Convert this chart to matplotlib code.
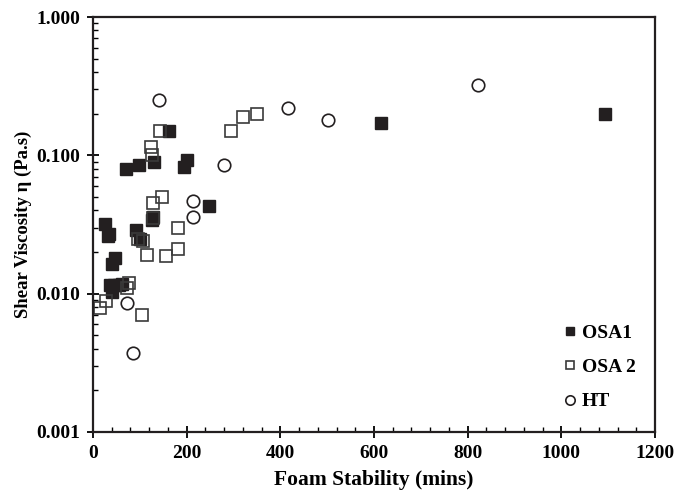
import matplotlib
matplotlib.use("Agg")
import matplotlib.pyplot as plt
from matplotlib.ticker import FixedLocator, LogLocator, FixedFormatter, NullFormatter, MultipleLocator

osa1_x = [162, 70, 98, 130, 200, 194, 248, 128, 127, 26, 31, 35, 92, 100, 47, 40, 36, 45, 55, 62, 40, 615, 1093]
osa1_y = [0.149, 0.080, 0.085, 0.090, 0.092, 0.082, 0.043, 0.036, 0.034, 0.032, 0.026, 0.027, 0.029, 0.025,
          0.018, 0.0165, 0.0115, 0.0115, 0.0115, 0.0117, 0.0103, 0.170, 0.200]

osa2_x = [143, 124, 127, 295, 320, 350, 147, 128, 128, 181, 96, 107, 115, 156, 181, 77, 73, 27, 14, 105]
osa2_y = [0.150, 0.115, 0.100, 0.150, 0.190, 0.198, 0.050, 0.045, 0.035, 0.030, 0.025, 0.024, 0.019, 0.0187,
          0.021, 0.012, 0.011, 0.0088, 0.0079, 0.0070]

ht_x = [141, 280, 214, 213, 72, 86, 416, 501, 822]
ht_y = [0.25, 0.085, 0.047, 0.036, 0.0085, 0.0037, 0.22, 0.18, 0.32]

x_ticks = [0, 200, 400, 600, 800, 1000, 1200]
y_ticks = [0.001, 0.01, 0.1, 1.0]
y_tick_labels = ["0.001", "0.010", "0.100", "1.000"]

plt.rcParams['font.family'] = ['Liberation Serif', 'DejaVu Serif']
plt.rcParams['font.weight'] = 'bold'

fig = plt.figure(figsize=(6.92, 4.94), dpi=100)
ax = fig.add_axes([93/692, 1-432/494, (655-93)/692, (432-17)/494])

ms = 8.5
ax.plot(osa1_x, osa1_y, ls='none', marker='s', ms=ms, mfc='#231f20', mec='#231f20', mew=1.0, label='OSA1')
ax.plot(osa2_x, osa2_y, ls='none', marker='s', ms=ms, mfc='none', mec='#3a3a3a', mew=1.2, label='OSA 2')
ax.plot(ht_x, ht_y, ls='none', marker='o', ms=ms+0.5, mfc='none', mec='#231f20', mew=1.2, label='HT')

ax.set_yscale('log')
ax.set_xlim(0, 1200)
ax.set_ylim(0.001, 1.0)
ax.xaxis.set_major_locator(FixedLocator(x_ticks))
ax.xaxis.set_minor_locator(MultipleLocator(40))
ax.yaxis.set_major_locator(FixedLocator(y_ticks))
ax.yaxis.set_major_formatter(FixedFormatter(y_tick_labels))
ax.yaxis.set_minor_locator(LogLocator(base=10, subs=range(2, 10)))
ax.yaxis.set_minor_formatter(NullFormatter())

ax.tick_params(which='major', direction='inout', length=8, width=1.3, labelsize=14, pad=5)
ax.tick_params(which='minor', direction='in', length=3.5, width=1.0)
for lbl in ax.get_xticklabels() + ax.get_yticklabels():
    lbl.set_fontweight('bold')
for s in ax.spines.values():
    s.set_linewidth(1.6)
    s.set_color('#231f20')

ax.set_xlabel('Foam Stability (mins)', fontsize=15.5, fontweight='bold', labelpad=6)
ax.set_ylabel('Shear Viscosity η (Pa.s)', fontsize=13.5, fontweight='bold', labelpad=3)

leg = ax.legend(loc='lower left', bbox_to_anchor=(0.808, 0.01), frameon=False, fontsize=14,
                markerscale=0.75, handlelength=0.6, handletextpad=0.3, labelspacing=0.85)
for t in leg.get_texts():
    t.set_fontweight('bold')

fig.savefig('out.png', dpi=100)
